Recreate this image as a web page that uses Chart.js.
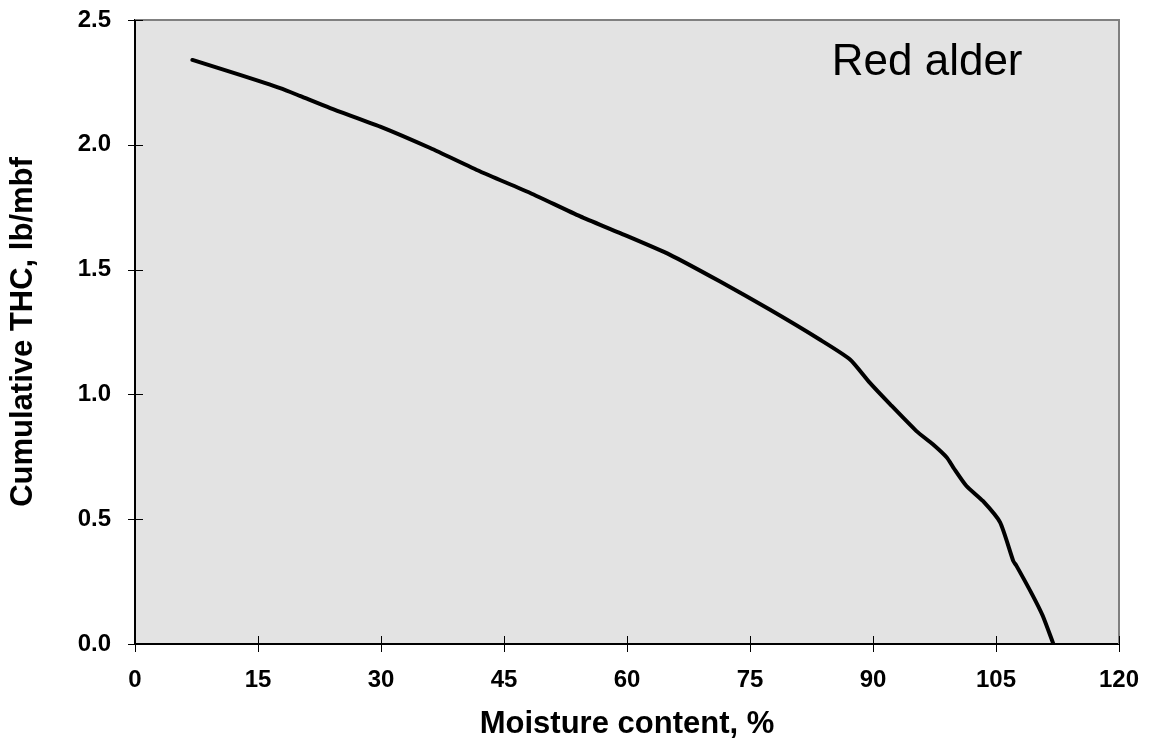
<!DOCTYPE html>
<html lang="en">
<head>
    <meta charset="UTF-8">
    <title>Red alder</title>
    <script src="https://cdn.jsdelivr.net/npm/chart.js"></script>
    <style>
        html, body { margin: 0; padding: 0; background: #fff; }
        #wrap { width: 1151px; height: 742px; }
    </style>
</head>
<body>
    <div id="wrap"><canvas id="chart"></canvas></div>
    <script>
        // values
        const moisture = [7.0, 12.8, 17.7, 20.1, 23.8, 29.9, 36.0, 42.1, 48.2, 54.3, 59.1, 65.2, 71.3, 77.4, 83.5, 87.2, 89.6, 92.1, 95.3, 97.3, 99.0, 99.8, 101.4, 103.4, 105.5, 107.1, 107.5, 109.5, 110.7, 112.0];
        const thc = [2.34, 2.28, 2.227, 2.196, 2.147, 2.073, 1.987, 1.893, 1.807, 1.713, 1.647, 1.56, 1.453, 1.34, 1.22, 1.14, 1.047, 0.96, 0.853, 0.80, 0.747, 0.707, 0.633, 0.573, 0.487, 0.333, 0.313, 0.193, 0.113, 0.0];
        const xTicks = [0, 15, 30, 45, 60, 75, 90, 105, 120];
        const yTicks = [0, 0.5, 1.0, 1.5, 2.0, 2.5];
        const seriesLabel = "Red alder";

        const fontFamily = "'Liberation Sans', Arial, sans-serif";

        const points = moisture.map((m, i) => ({ x: m, y: thc[i] }));

        // grey plot area, grey top/right frame, ticks crossing the axes, label
        const framePlugin = {
            id: "frame",
            beforeDraw(chart) {
                const { ctx, chartArea: a } = chart;
                ctx.save();
                ctx.fillStyle = "#e3e3e3";
                ctx.fillRect(a.left, a.top, a.right - a.left, a.bottom - a.top);
                ctx.restore();
            },
            afterDraw(chart) {
                const { ctx, chartArea: a, scales } = chart;
                ctx.save();
                ctx.strokeStyle = "#808080";
                ctx.lineWidth = 2;
                ctx.beginPath();
                ctx.moveTo(a.left, a.top);
                ctx.lineTo(a.right, a.top);
                ctx.lineTo(a.right, a.bottom);
                ctx.stroke();

                ctx.strokeStyle = "#000";
                ctx.lineWidth = 1;
                ctx.beginPath();
                xTicks.forEach(v => {
                    const px = Math.round(scales.x.getPixelForValue(v)) + 0.5;
                    ctx.moveTo(px, a.bottom - 8);
                    ctx.lineTo(px, a.bottom + 8);
                });
                yTicks.forEach(v => {
                    const py = Math.round(scales.y.getPixelForValue(v)) + 0.5;
                    ctx.moveTo(a.left - 7, py);
                    ctx.lineTo(a.left + 8, py);
                });
                ctx.stroke();

                ctx.fillStyle = "#000";
                ctx.font = "44px " + fontFamily;
                ctx.textAlign = "center";
                ctx.textBaseline = "middle";
                ctx.fillText(seriesLabel, scales.x.getPixelForValue(96.6), scales.y.getPixelForValue(2.33));
                ctx.restore();
            }
        };

        new Chart(document.getElementById("chart"), {
            type: "line",
            data: {
                datasets: [{
                    label: seriesLabel,
                    data: points,
                    borderColor: "#000",
                    borderWidth: 4,
                    borderCapStyle: "round",
                    borderJoinStyle: "round",
                    pointRadius: 0,
                    tension: 0.2,
                    fill: false
                }]
            },
            options: {
                responsive: true,
                maintainAspectRatio: false,
                animation: false,
                layout: { padding: { top: 20, right: 32, bottom: 0, left: 0 } },
                plugins: {
                    legend: { display: false },
                    tooltip: { enabled: false }
                },
                scales: {
                    x: {
                        type: "linear",
                        min: 0,
                        max: 120,
                        afterBuildTicks: s => { s.ticks = xTicks.map(v => ({ value: v })); },
                        afterFit: s => { s.height = 98; s.paddingLeft = 0; s.paddingRight = 0; },
                        grid: { display: true, drawOnChartArea: false, drawTicks: false },
                        border: { color: "#000", width: 2 },
                        ticks: {
                            color: "#000",
                            padding: 22,
                            font: { family: fontFamily, size: 24, weight: "bold" }
                        },
                        title: {
                            display: true,
                            text: "Moisture content, %",
                            color: "#000",
                            padding: { top: 0, bottom: 0 },
                            font: { family: fontFamily, size: 31, weight: "bold", lineHeight: 1.15 }
                        }
                    },
                    y: {
                        type: "linear",
                        min: 0,
                        max: 2.5,
                        afterBuildTicks: s => { s.ticks = yTicks.map(v => ({ value: v })); },
                        afterFit: s => { s.width = 135; s.paddingTop = 0; s.paddingBottom = 0; },
                        grid: { display: true, drawOnChartArea: false, drawTicks: false },
                        border: { color: "#000", width: 2 },
                        ticks: {
                            color: "#000",
                            padding: 24,
                            callback: v => Number(v).toFixed(1),
                            font: { family: fontFamily, size: 24, weight: "bold" }
                        },
                        title: {
                            display: true,
                            text: "Cumulative THC, lb/mbf",
                            color: "#000",
                            padding: { top: 5, bottom: 0 },
                            font: { family: fontFamily, size: 31, weight: "bold", lineHeight: 1.2 }
                        }
                    }
                }
            },
            plugins: [framePlugin]
        });
    </script>
</body>
</html>
